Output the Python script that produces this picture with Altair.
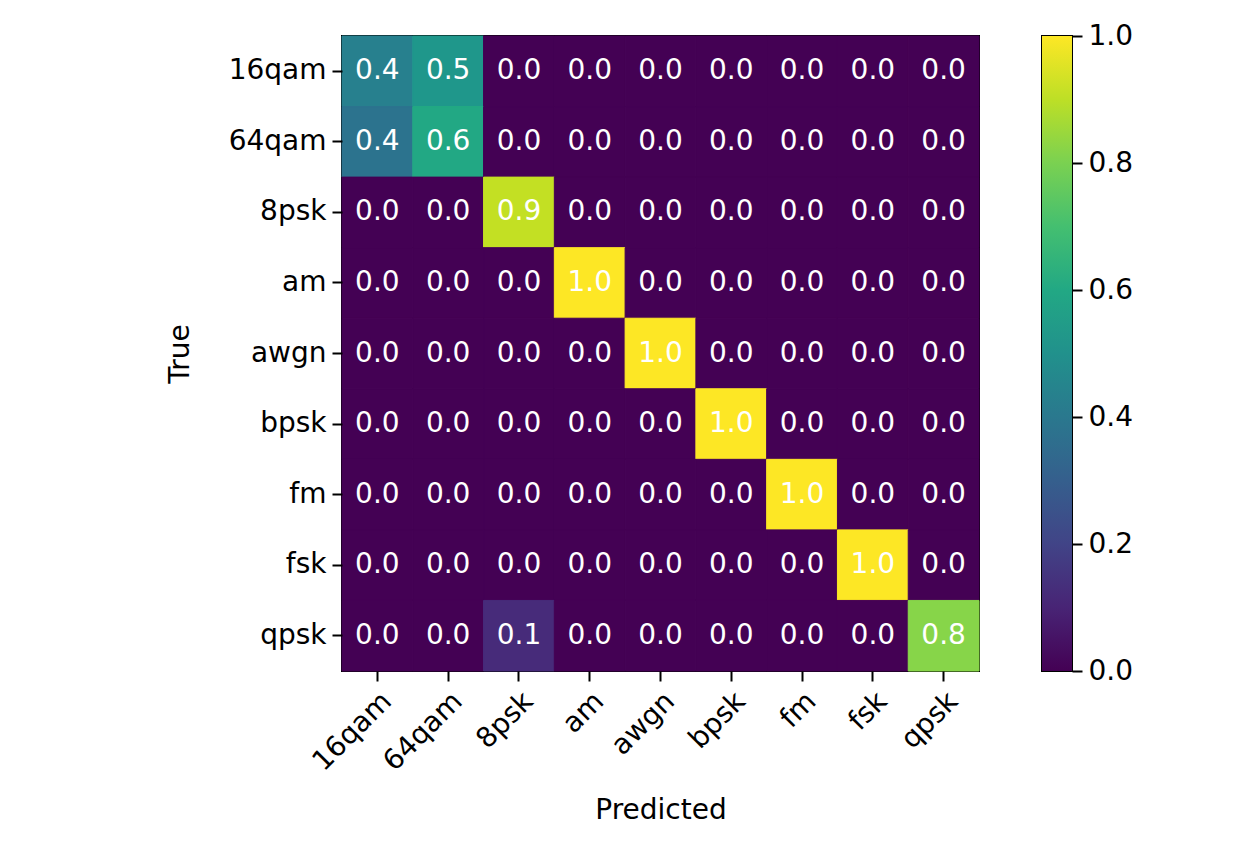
import altair as alt
import pandas as pd

classes = ["16qam", "64qam", "8psk", "am", "awgn", "bpsk", "fm", "fsk", "qpsk"]

# rows = true class, columns = predicted class
row_16qam = [0.43, 0.53, 0.00, 0.00, 0.00, 0.00, 0.00, 0.00, 0.00]
row_64qam = [0.38, 0.60, 0.00, 0.00, 0.00, 0.00, 0.00, 0.00, 0.00]
row_8psk = [0.00, 0.00, 0.91, 0.00, 0.00, 0.00, 0.00, 0.00, 0.00]
row_am = [0.00, 0.00, 0.00, 1.00, 0.00, 0.00, 0.00, 0.00, 0.00]
row_awgn = [0.00, 0.00, 0.00, 0.00, 1.00, 0.00, 0.00, 0.00, 0.00]
row_bpsk = [0.00, 0.00, 0.00, 0.00, 0.00, 1.00, 0.00, 0.00, 0.00]
row_fm = [0.00, 0.00, 0.00, 0.00, 0.00, 0.00, 1.00, 0.00, 0.00]
row_fsk = [0.00, 0.00, 0.00, 0.00, 0.00, 0.00, 0.00, 1.00, 0.00]
row_qpsk = [0.00, 0.00, 0.12, 0.00, 0.00, 0.00, 0.00, 0.00, 0.82]

rows = [row_16qam, row_64qam, row_8psk, row_am, row_awgn, row_bpsk, row_fm, row_fsk, row_qpsk]

colorbar_ticks = [0.0, 0.2, 0.4, 0.6, 0.8, 1.0]
colorbar_range = [0.0, 1.0]

records = []
for t, row in zip(classes, rows):
    for p, v in zip(classes, row):
        records.append({"True": t, "Predicted": p, "value": v})
df = pd.DataFrame(records)

FONT = "DejaVu Sans"
FS = 28

vscale = alt.Scale(scheme="viridis", domain=[0, 1])

base = alt.Chart(df).encode(
    x=alt.X("Predicted:N", sort=classes, title="Predicted",
            axis=alt.Axis(labelAngle=-45, labelAlign="right", labelBaseline="top",
                          labelPadding=6, titlePadding=21)),
    y=alt.Y("True:N", sort=classes, title="True",
            axis=alt.Axis(labelPadding=6, titlePadding=34)),
)

cells = base.mark_rect(strokeWidth=1).encode(
    color=alt.Color("value:Q", scale=vscale, legend=None),
    stroke=alt.Stroke("value:Q", scale=vscale, legend=None),
)
texts = base.mark_text(color="white", fontSize=FS, font=FONT).encode(
    text=alt.Text("value:Q", format=".1f")
)
heat = (cells + texts).properties(width=637, height=635)

viridis_stops = [
    ("#440154", 0.0), ("#482475", 0.1), ("#414487", 0.2), ("#355f8d", 0.3),
    ("#2a788e", 0.4), ("#21918c", 0.5), ("#22a884", 0.6), ("#44bf70", 0.7),
    ("#7ad151", 0.8), ("#bddf26", 0.9), ("#fde725", 1.0),
]
grad = alt.LinearGradient(
    gradient="linear",
    stops=[alt.GradientStop(color=c, offset=o) for c, o in viridis_stops],
    x1=0, x2=0, y1=1, y2=0,
)
cb_df = pd.DataFrame({"lo": [colorbar_range[0]], "hi": [colorbar_range[1]]})
colorbar = alt.Chart(cb_df).mark_rect(color=grad).encode(
    x=alt.value(0), x2=alt.value(30),
    y=alt.Y("lo:Q", scale=alt.Scale(domain=colorbar_range, nice=False),
            axis=alt.Axis(orient="right", values=colorbar_ticks, format=".1f",
                          title=None, grid=False, labelPadding=6)),
    y2="hi:Q",
).properties(width=30, height=635)

chart = alt.hconcat(heat, colorbar, spacing=60).properties(
    padding={"left": 157, "top": 13, "right": 5, "bottom": 5}
).configure_view(
    stroke="black", strokeWidth=2
).configure_axis(
    labelFont=FONT, titleFont=FONT, labelFontSize=FS, titleFontSize=FS,
    labelColor="#000000", titleColor="#000000", titleFontWeight="normal",
    domain=False, tickColor="#000000", tickSize=10, tickWidth=2, grid=False,
)

chart.save("out.html", embed_options={"renderer": "svg", "actions": False})
